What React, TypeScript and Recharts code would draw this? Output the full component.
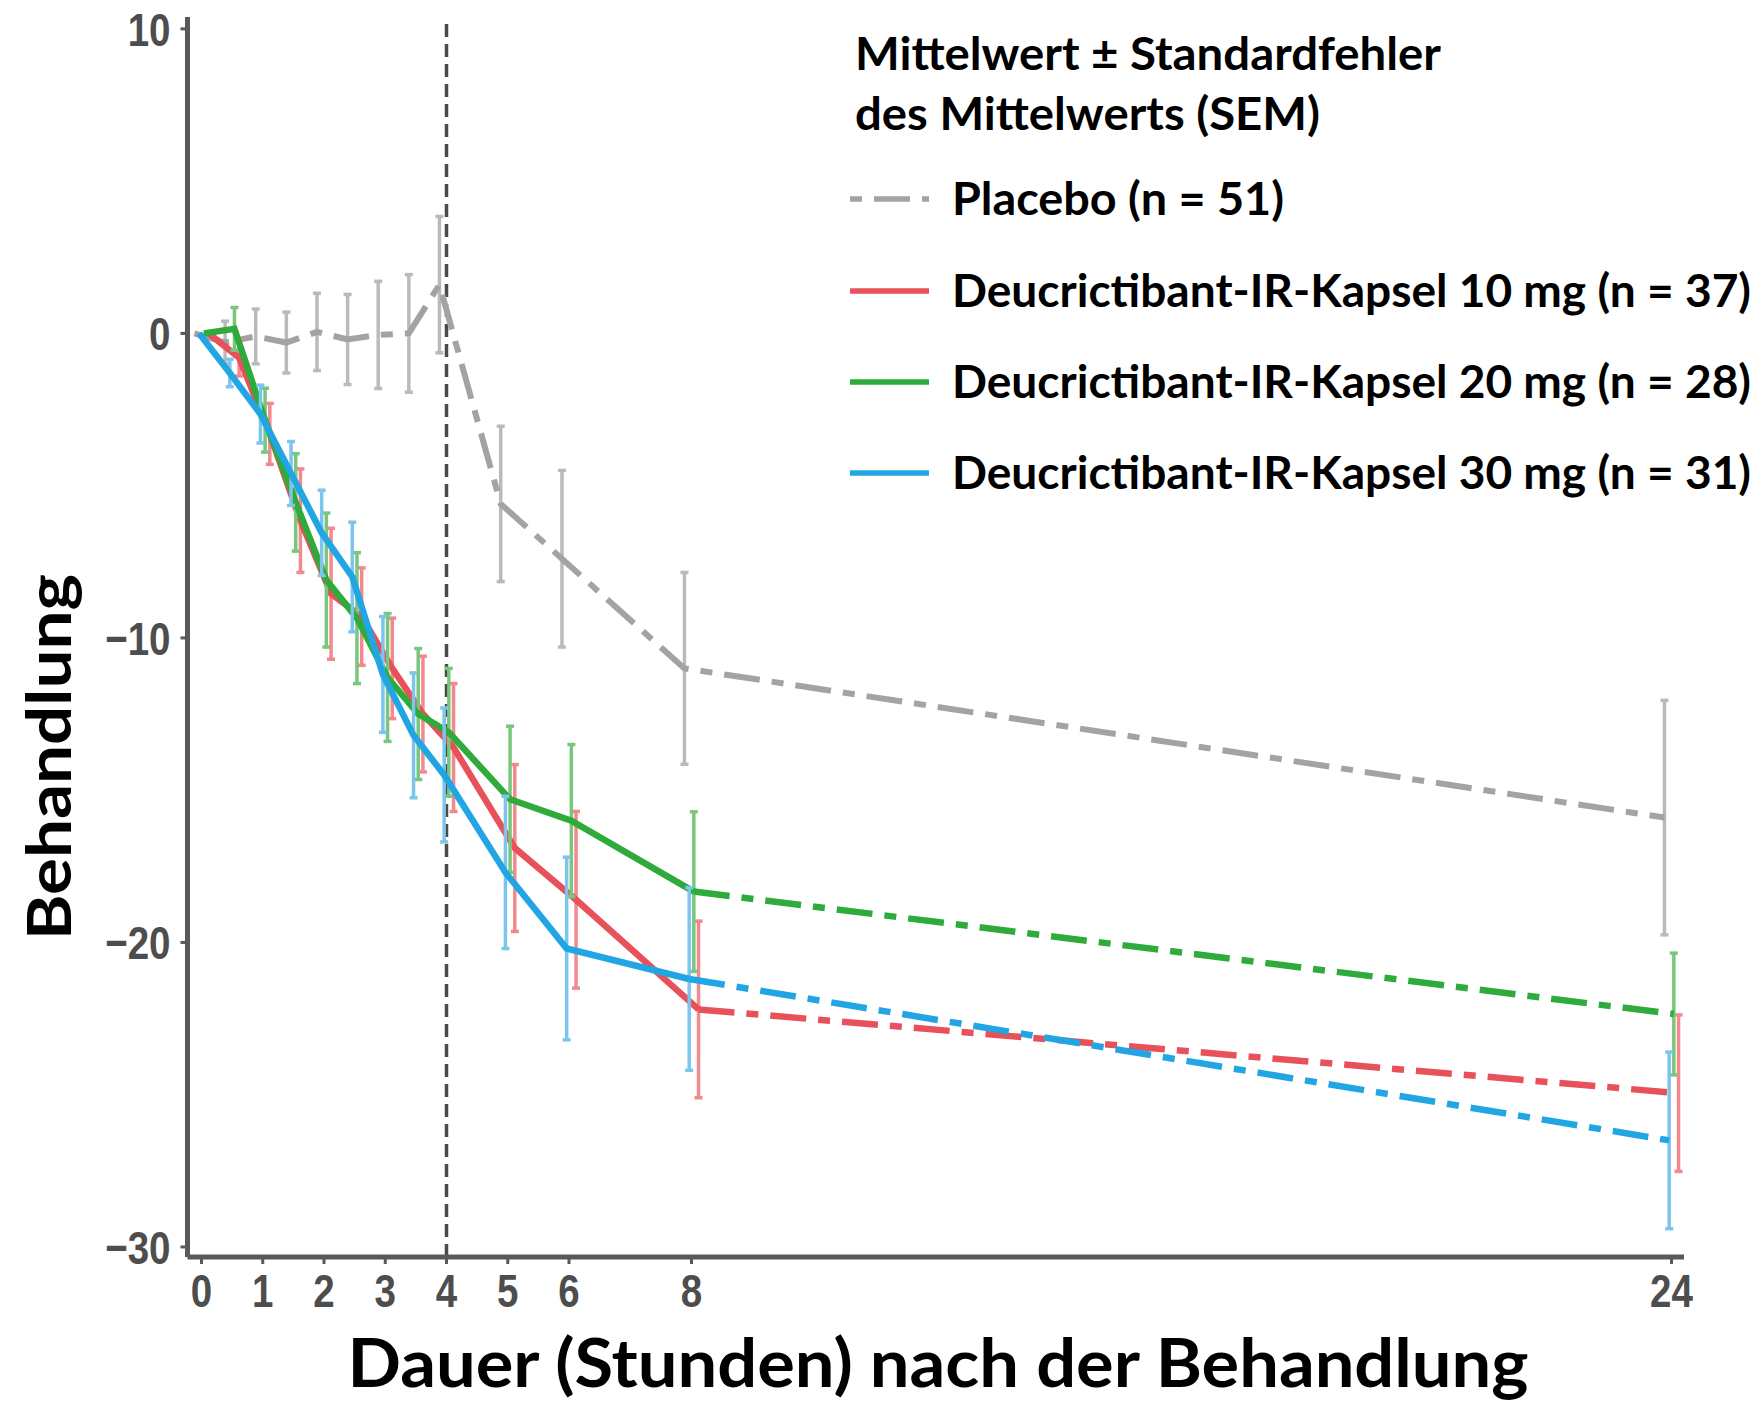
import React from 'react';
import { LineChart, Line, XAxis, YAxis, ErrorBar, ReferenceLine, Label } from 'recharts';

// Messzeitpunkte (Stunden nach der Behandlung)
const hours = [0, 0.5, 1, 1.5, 2, 2.5, 3, 3.5, 4, 5, 6, 8, 24];

// Mittelwerte und SEM je Gruppe
const placeboMean = [0, -0.3, -0.1, -0.3, 0.05, -0.2, -0.05, 0.0, 1.6, -5.6, -7.4, -11.0, -15.9];
const placeboSem = [null, 0.7, 0.9, 1.0, 1.27, 1.48, 1.76, 1.93, 2.24, 2.55, 2.9, 3.15, 3.85];

const mg10Mean = [0, -0.8, -3.3, -6.15, -8.55, -9.3, -11.0, -12.5, -13.6, -16.9, -18.6, -22.2, -24.95];
const mg10Sem = [null, 0.6, 1.0, 1.7, 2.15, 1.6, 1.65, 1.9, 2.1, 2.74, 2.9, 2.9, 2.57];

const mg20Mean = [0, 0.15, -2.85, -5.55, -8.1, -9.35, -11.3, -12.5, -13.1, -15.3, -16.0, -18.33, -22.35];
const mg20Sem = [null, 0.7, 1.05, 1.6, 2.2, 2.15, 2.1, 2.15, 2.1, 2.4, 2.5, 2.62, 2.0];

const mg30Mean = [0, -1.3, -2.65, -4.6, -6.55, -8.0, -11.2, -13.2, -14.5, -17.7, -20.2, -21.2, -26.5];
const mg30Sem = [null, 0.45, 0.95, 1.05, 1.4, 1.8, 1.9, 2.05, 2.2, 2.5, 3.0, 3.0, 2.9];

const xTicks = [0, 1, 2, 3, 4, 5, 6, 8, 24];
const yTicks = [-30, -20, -10, 0, 10];

const legendTitle = ['Mittelwert ± Standardfehler', 'des Mittelwerts (SEM)'];
const seriesNames = [
  'Placebo (n = 51)',
  'Deucrictibant-IR-Kapsel 10 mg (n = 37)',
  'Deucrictibant-IR-Kapsel 20 mg (n = 28)',
  'Deucrictibant-IR-Kapsel 30 mg (n = 31)',
];

const GREY = '#a3a3a3';
const RED = '#e8505a';
const GREEN = '#2eab3a';
const BLUE = '#22a6e3';
const DOTDASH = '36 12 12 12';
const LW = 6.5;
const TITLE_FONT = 'Lato, "Open Sans", sans-serif';
const TICK_FONT = '"Liberation Sans", Arial, sans-serif';

// ggplot-artiges Dodge: jede Gruppe leicht versetzt
const rows = (mean: number[], sem: (number | null)[], shift: number, from: number, to: number, skipFirstErr = false) =>
  hours
    .map((t, i) => ({ t: t + shift, v: mean[i], e: sem[i], h: t }))
    .filter((r) => r.h >= from && r.h <= to)
    .map((r, i) => ({ t: r.t, v: r.v, e: skipFirstErr && i === 0 ? null : r.e }));

const placeboRows = rows(placeboMean, placeboSem, -0.115, 0, 24);
const mg10Solid = rows(mg10Mean, mg10Sem, 0.115, 0, 8);
const mg10Dash = rows(mg10Mean, mg10Sem, 0.115, 8, 24, true);
const mg20Solid = rows(mg20Mean, mg20Sem, 0.038, 0, 8);
const mg20Dash = rows(mg20Mean, mg20Sem, 0.038, 8, 24, true);
const mg30Solid = rows(mg30Mean, mg30Sem, -0.038, 0, 8);
const mg30Dash = rows(mg30Mean, mg30Sem, -0.038, 8, 24, true);

const fmtY = (v: number) => (v < 0 ? `\u2212${-v}` : `${v}`);

// schmale Schrift wie Arial Narrow: horizontal gestaucht
const XTick = (props: any) => {
  const { x, y, payload } = props;
  return (
    <text transform={`translate(${x},${y}) scale(0.82,1)`} textAnchor="middle" dy="0.71em"
      fill="#4d4d4d" fontFamily={TICK_FONT} fontWeight={700} fontSize={47}>
      {payload.value}
    </text>
  );
};

const YTick = (props: any) => {
  const { x, y, payload } = props;
  return (
    <text transform={`translate(${x},${y}) scale(0.82,1)`} textAnchor="end" dy="0.355em"
      fill="#4d4d4d" fontFamily={TICK_FONT} fontWeight={700} fontSize={47}>
      {fmtY(payload.value)}
    </text>
  );
};

const Legend: React.FC = () => {
  const keys = [
    { color: GREY, dash: DOTDASH, y: 199, base: 215, len: 332 },
    { color: RED, dash: undefined, y: 291, base: 307, len: 799 },
    { color: GREEN, dash: undefined, y: 382, base: 398, len: 799 },
    { color: BLUE, dash: undefined, y: 473, base: 489, len: 799 },
  ];
  return (
    <svg width={1760} height={1402} style={{ position: 'absolute', left: 0, top: 0, pointerEvents: 'none' }}>
      <g fontFamily={TITLE_FONT} fontWeight={700} fontSize={45} fill="#000">
        <text x={855} y={70} textLength={586} lengthAdjust="spacingAndGlyphs">{legendTitle[0]}</text>
        <text x={855} y={130} textLength={465} lengthAdjust="spacingAndGlyphs">{legendTitle[1]}</text>
        {keys.map((k, i) => (
          <g key={i}>
            <line x1={850} x2={929} y1={k.y} y2={k.y} stroke={k.color} strokeWidth={5.5}
              strokeDasharray={k.dash} strokeDashoffset={k.dash ? 48 : undefined} />
            <text x={952} y={k.base} textLength={k.len} lengthAdjust="spacingAndGlyphs">{seriesNames[i]}</text>
          </g>
        ))}
      </g>
    </svg>
  );
};

const errStyle = (c: string) => ({ stroke: c, strokeWidth: 3.5, width: 4 });

export default function App() {
  return (
    <div style={{ position: 'relative', width: 1760, height: 1402, background: '#fff' }}>
      <style>{'body{margin:0}'}</style>
      <LineChart width={1760} height={1402} margin={{ top: 17, right: 76, bottom: 45, left: 0 }}>
        <XAxis
          type="number"
          dataKey="t"
          domain={[-0.2286, 24.204]}
          allowDataOverflow
          ticks={xTicks}
          interval={0}
          height={100}
          axisLine={{ stroke: '#595959', strokeWidth: 5 }}
          tickLine={{ stroke: '#595959', strokeWidth: 3 }}
          tickSize={7}
          tickMargin={10}
          tick={XTick}
        >
          <Label
            content={() => (
              <text x={938} y={1387} textAnchor="middle" fontFamily={TITLE_FONT} fontWeight={700} fontSize={67}
                fill="#000" textLength={1181} lengthAdjust="spacingAndGlyphs">
                Dauer (Stunden) nach der Behandlung
              </text>
            )}
          />
        </XAxis>
        <YAxis
          type="number"
          domain={[-30.33, 10.39]}
          allowDataOverflow
          ticks={yTicks}
          interval={0}
          width={187.5}
          axisLine={{ stroke: '#595959', strokeWidth: 5 }}
          tickLine={{ stroke: '#595959', strokeWidth: 3 }}
          tickSize={7}
          tickMargin={10}
          tick={YTick}
        >
          <Label
            content={() => (
              <text transform="translate(71,757) rotate(-90)" x={0} y={0} textAnchor="middle" fontFamily={TITLE_FONT}
                fontWeight={700} fontSize={61} fill="#000" textLength={366} lengthAdjust="spacingAndGlyphs">
                Behandlung
              </text>
            )}
          />
        </YAxis>
        <ReferenceLine x={4} stroke="#4a4a4a" strokeWidth={3.5} strokeDasharray="13 7" />

        <Line data={placeboRows} dataKey="v" stroke={GREY} strokeWidth={6} strokeDasharray={DOTDASH}
          dot={false} activeDot={false} isAnimationActive={false}>
          <ErrorBar dataKey="e" direction="y" {...errStyle('#bababa')} />
        </Line>

        <Line data={mg10Solid} dataKey="v" stroke={RED} strokeWidth={LW} dot={false} activeDot={false} isAnimationActive={false}>
          <ErrorBar dataKey="e" direction="y" {...errStyle('#f2898d')} />
        </Line>
        <Line data={mg10Dash} dataKey="v" stroke={RED} strokeWidth={LW} strokeDasharray={DOTDASH}
          dot={false} activeDot={false} isAnimationActive={false}>
          <ErrorBar dataKey="e" direction="y" {...errStyle('#f2898d')} />
        </Line>

        <Line data={mg20Solid} dataKey="v" stroke={GREEN} strokeWidth={LW} dot={false} activeDot={false} isAnimationActive={false}>
          <ErrorBar dataKey="e" direction="y" {...errStyle('#79c77f')} />
        </Line>
        <Line data={mg20Dash} dataKey="v" stroke={GREEN} strokeWidth={LW} strokeDasharray={DOTDASH}
          dot={false} activeDot={false} isAnimationActive={false}>
          <ErrorBar dataKey="e" direction="y" {...errStyle('#79c77f')} />
        </Line>

        <Line data={mg30Solid} dataKey="v" stroke={BLUE} strokeWidth={LW} dot={false} activeDot={false} isAnimationActive={false}>
          <ErrorBar dataKey="e" direction="y" {...errStyle('#7cc5ec')} />
        </Line>
        <Line data={mg30Dash} dataKey="v" stroke={BLUE} strokeWidth={LW} strokeDasharray={DOTDASH}
          dot={false} activeDot={false} isAnimationActive={false}>
          <ErrorBar dataKey="e" direction="y" {...errStyle('#7cc5ec')} />
        </Line>
      </LineChart>
      <Legend />
    </div>
  );
}
